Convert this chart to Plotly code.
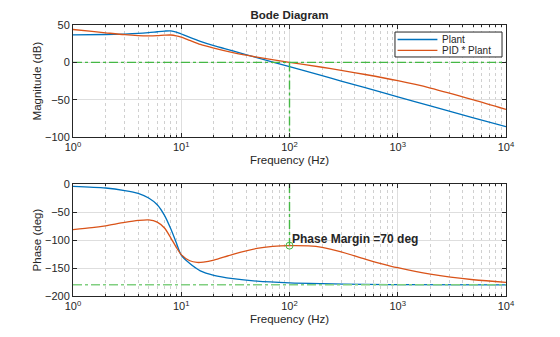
import math
import plotly.graph_objects as go

# Plant frequency response
plant_mag_hz = [1, 2, 3, 4, 5, 6, 7, 8, 9, 10, 12, 15, 20, 30, 50, 100, 200, 300, 500, 1000, 2000, 5000, 10000]
plant_mag_db = [36.8, 37.3, 37.9, 38.7, 39.8, 41.0, 41.9, 42.2, 40.6, 38.0, 33.4, 28.2, 22.4, 15.4, 6.3, -5.8, -17.8, -24.9, -33.8, -46.0, -58.2, -74.2, -86.0]

plant_ph_hz = [1, 2, 3, 4, 5, 6, 7, 8, 9, 10, 12, 15, 20, 30, 50, 100, 200, 500, 1000, 10000]
plant_ph_deg = [-4, -7, -11.5, -16.5, -25, -37, -56, -80, -105, -127, -142, -155, -163, -169, -173.5, -176.5, -178, -179.3, -179.6, -180]

# Compensated loop: PID * Plant
loop_mag_hz = [1, 1.5, 2, 3, 4, 5, 6, 7, 8, 9, 10, 12, 15, 20, 30, 50, 100, 200, 300, 500, 1000, 2000, 5000, 10000]
loop_mag_db = [44.0, 41.5, 39.6, 37.0, 35.8, 35.5, 35.8, 36.4, 36.6, 35.6, 33.8, 29.4, 24.0, 19.0, 13.0, 7.0, 0.0, -6.5, -10.6, -16.2, -24.5, -34.3, -50.0, -62.8]

loop_ph_hz = [1, 1.5, 2, 3, 4, 5, 6, 7, 8, 9, 10, 12, 14, 16, 20, 30, 50, 70, 100, 150, 200, 300, 500, 700, 1000, 2000, 5000, 10000]
loop_ph_deg = [-81.5, -78, -74.5, -68.5, -65, -64, -68, -78.5, -96, -113, -126, -137, -140, -139.5, -136, -125.5, -115, -111.5, -110, -110.5, -113, -121, -134, -142, -149.5, -161, -171, -175.5]

series_names = ["Plant", "PID * Plant"]

# Stability margin at the gain crossover
crossover_hz = 100
crossover_phase = -110
phase_margin = 70

freq_range = [1, 10000]
mag_ticks = [-100, -50, 0, 50]
phase_ticks = [-200, -150, -100, -50, 0]
freq_ticks = [1, 10, 100, 1000, 10000]
freq_ticktext = ["10<sup>0</sup>", "10<sup>1</sup>", "10<sup>2</sup>", "10<sup>3</sup>", "10<sup>4</sup>"]

BLUE = "#0072BD"
ORANGE = "#D95319"
GREEN = "#45B845"
GREEN_LIGHT = "#80CF80"
INK = "#262626"
GRID = "#DEDEDE"
FONT = "Liberation Sans, Arial, sans-serif"

fig = go.Figure()

line_w = 1.3
fig.add_trace(go.Scatter(x=plant_mag_hz, y=plant_mag_db, mode="lines", name=series_names[0],
                         line=dict(color=BLUE, width=line_w, shape="spline", smoothing=0.8),
                         xaxis="x", yaxis="y"))
fig.add_trace(go.Scatter(x=loop_mag_hz, y=loop_mag_db, mode="lines", name=series_names[1],
                         line=dict(color=ORANGE, width=line_w, shape="spline", smoothing=0.8),
                         xaxis="x", yaxis="y"))
fig.add_trace(go.Scatter(x=plant_ph_hz, y=plant_ph_deg, mode="lines", name=series_names[0],
                         line=dict(color=BLUE, width=line_w, shape="spline", smoothing=0.8),
                         xaxis="x2", yaxis="y2"))
fig.add_trace(go.Scatter(x=loop_ph_hz, y=loop_ph_deg, mode="lines", name=series_names[1],
                         line=dict(color=ORANGE, width=line_w, shape="spline", smoothing=0.8),
                         xaxis="x2", yaxis="y2"))

# Margin guide lines
dash = dict(color=GREEN, width=1.4, dash="dashdot")
fig.add_trace(go.Scatter(x=freq_range, y=[0, 0], mode="lines", line=dash,
                         xaxis="x", yaxis="y"))
fig.add_trace(go.Scatter(x=[crossover_hz, crossover_hz], y=[0, mag_ticks[0]], mode="lines", line=dash,
                         xaxis="x", yaxis="y"))
fig.add_trace(go.Scatter(x=[crossover_hz, crossover_hz], y=[phase_ticks[-1], crossover_phase], mode="lines",
                         line=dash, xaxis="x2", yaxis="y2"))
fig.add_trace(go.Scatter(x=freq_range, y=[-180, -180], mode="lines",
                         line=dict(color=GREEN_LIGHT, width=1.4, dash="dashdot"),
                         xaxis="x2", yaxis="y2"))
fig.add_trace(go.Scatter(x=[crossover_hz], y=[crossover_phase], mode="markers",
                         marker=dict(symbol="circle-open", size=7, color=GREEN, line=dict(width=1)),
                         xaxis="x2", yaxis="y2"))

fig.add_annotation(x=math.log10(crossover_hz), y=crossover_phase + 12, xref="x2", yref="y2",
                   text=f"<b>Phase Margin ={phase_margin} deg</b>", showarrow=False,
                   xanchor="left", yanchor="middle", xshift=0,
                   font=dict(family=FONT, size=12, color=INK))

# Compact boxed legend in the upper-right corner of the magnitude panel
leg_x0, leg_x1, leg_y0, leg_y1 = 0.7436, 0.9908, 0.882, 0.974
leg_rows = [0.9465, 0.906]
fig.add_shape(type="rect", xref="paper", yref="paper", x0=leg_x0, x1=leg_x1, y0=leg_y0, y1=leg_y1,
              line=dict(color=INK, width=1), fillcolor="white", layer="above")
for name, color, row_y in zip(series_names, [BLUE, ORANGE], leg_rows):
    fig.add_shape(type="line", xref="paper", yref="paper", x0=leg_x0 + 0.006, x1=leg_x0 + 0.098,
                  y0=row_y, y1=row_y, line=dict(color=color, width=1.3), layer="above")
    fig.add_annotation(x=leg_x0 + 0.105, y=row_y, xref="paper", yref="paper", text=name,
                       showarrow=False, xanchor="left", yanchor="middle",
                       font=dict(family=FONT, size=10, color=INK))

common_x = dict(type="log", range=[0, 4], tickvals=freq_ticks, ticktext=freq_ticktext,
                showline=True, linecolor=INK, linewidth=1, mirror="ticks",
                ticks="inside", ticklen=4, tickcolor=INK,
                showgrid=True, gridcolor=GRID, gridwidth=1, zeroline=False,
                minor=dict(dtick="D1", ticks="inside", ticklen=2, tickcolor=INK,
                           showgrid=True, gridcolor="#D0D0D0", griddash="dot", gridwidth=1),
                tickfont=dict(family=FONT, size=11, color=INK),
                title=dict(text="Frequency (Hz)", font=dict(family=FONT, size=11.5, color=INK), standoff=3))
common_y = dict(showline=True, linecolor=INK, linewidth=1, mirror="ticks",
                ticks="inside", ticklen=4, tickcolor=INK,
                showgrid=True, gridcolor=GRID, gridwidth=1, zeroline=False,
                tickfont=dict(family=FONT, size=11, color=INK))

fig.update_layout(
    width=560, height=337,
    margin=dict(l=73, r=54, t=25, b=41),
    paper_bgcolor="white", plot_bgcolor="white",
    font=dict(family=FONT, color=INK),
    title=dict(text="<b>Bode Diagram</b>", x=0.5, xref="paper", xanchor="center",
               y=1 - 15 / 337, yref="container", yanchor="middle",
               font=dict(family=FONT, size=11.5, color=INK)),
    xaxis=dict(common_x, anchor="y", domain=[0, 1]),
    yaxis=dict(common_y, anchor="x", domain=[0.586, 1], range=[-100, 50], tickvals=mag_ticks,
               title=dict(text="Magnitude (dB)", font=dict(family=FONT, size=11.5, color=INK), standoff=0)),
    xaxis2=dict(common_x, anchor="y2", domain=[0, 1]),
    yaxis2=dict(common_y, anchor="x2", domain=[0, 0.413], range=[-200, 0], tickvals=phase_ticks,
                title=dict(text="Phase (deg)", font=dict(family=FONT, size=11.5, color=INK), standoff=0)),
    showlegend=False,
)

fig.write_html("out.html")
